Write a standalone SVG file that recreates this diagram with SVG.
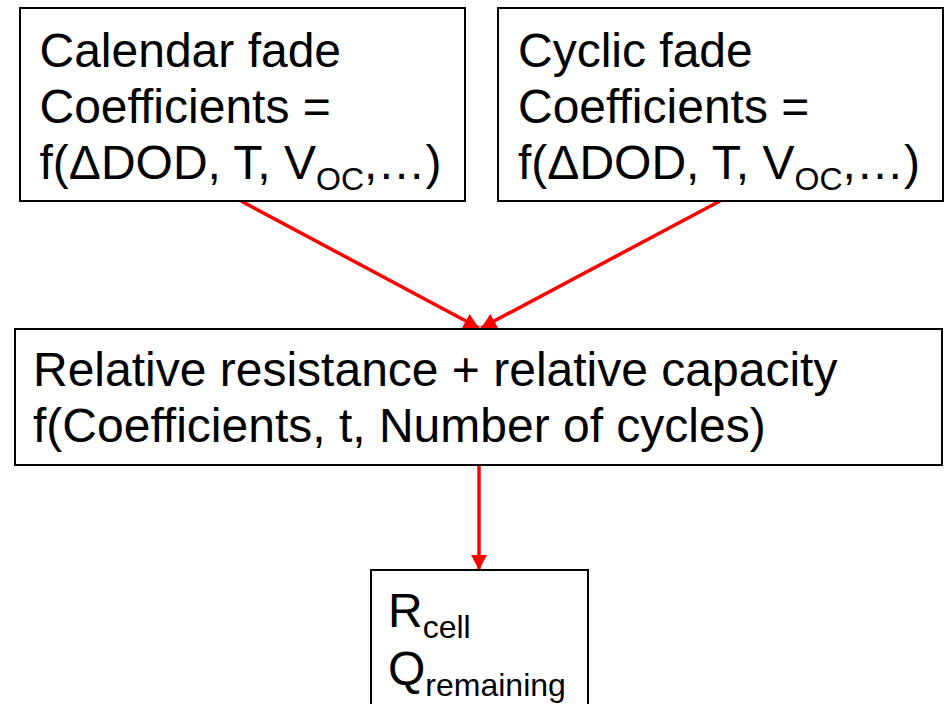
<svg xmlns="http://www.w3.org/2000/svg" width="952" height="704" viewBox="0 0 952 704">
<style>
.box{fill:#fff;stroke:#000;stroke-width:2}
.t{font-family:"Liberation Sans",Arial,sans-serif;font-size:48px;fill:#000}
.s{font-size:32px}
.con{stroke:#f00;stroke-width:3.5;fill:none}
</style>
<defs>
<marker id="ah" markerUnits="userSpaceOnUse" markerWidth="16" markerHeight="16" refX="15" refY="8" orient="auto">
<path d="M0,0 L15,8 L0,16 z" fill="#f00"/>
</marker>
</defs>
<rect width="952" height="704" fill="#fff"/>
<g id="connectors">
<line class="con" x1="241" y1="201" x2="479" y2="328" marker-end="url(#ah)"/>
<line class="con" x1="720" y1="201" x2="481" y2="328" marker-end="url(#ah)"/>
<line class="con" x1="479" y1="465" x2="479" y2="570" marker-end="url(#ah)"/>
</g>
<g id="calendar">
<rect class="box" x="20" y="8" width="445" height="193"/>
<text class="t" x="39.5" y="67">Calendar fade</text>
<text class="t" x="39.5" y="123">Coefficients =</text>
<text class="t" x="39.5" y="179">f(ΔDOD, T, V<tspan class="s" dy="11">OC</tspan><tspan dy="-11">,…)</tspan></text>
</g>
<g id="cyclic">
<rect class="box" x="498" y="8" width="445" height="193"/>
<text class="t" x="518" y="67">Cyclic fade</text>
<text class="t" x="518" y="123">Coefficients =</text>
<text class="t" x="518" y="179">f(ΔDOD, T, V<tspan class="s" dy="11">OC</tspan><tspan dy="-11">,…)</tspan></text>
</g>
<g id="relative">
<rect class="box" x="15" y="329" width="927" height="136"/>
<text class="t" x="33" y="386">Relative resistance + relative capacity</text>
<text class="t" x="33" y="442">f(Coefficients, t, Number of cycles)</text>
</g>
<g id="output">
<rect class="box" x="371" y="570" width="217" height="150"/>
<text class="t" x="388" y="627">R<tspan class="s" dy="11">cell</tspan></text>
<text class="t" x="388" y="685">Q<tspan class="s" dy="11">remaining</tspan></text>
</g>
</svg>
